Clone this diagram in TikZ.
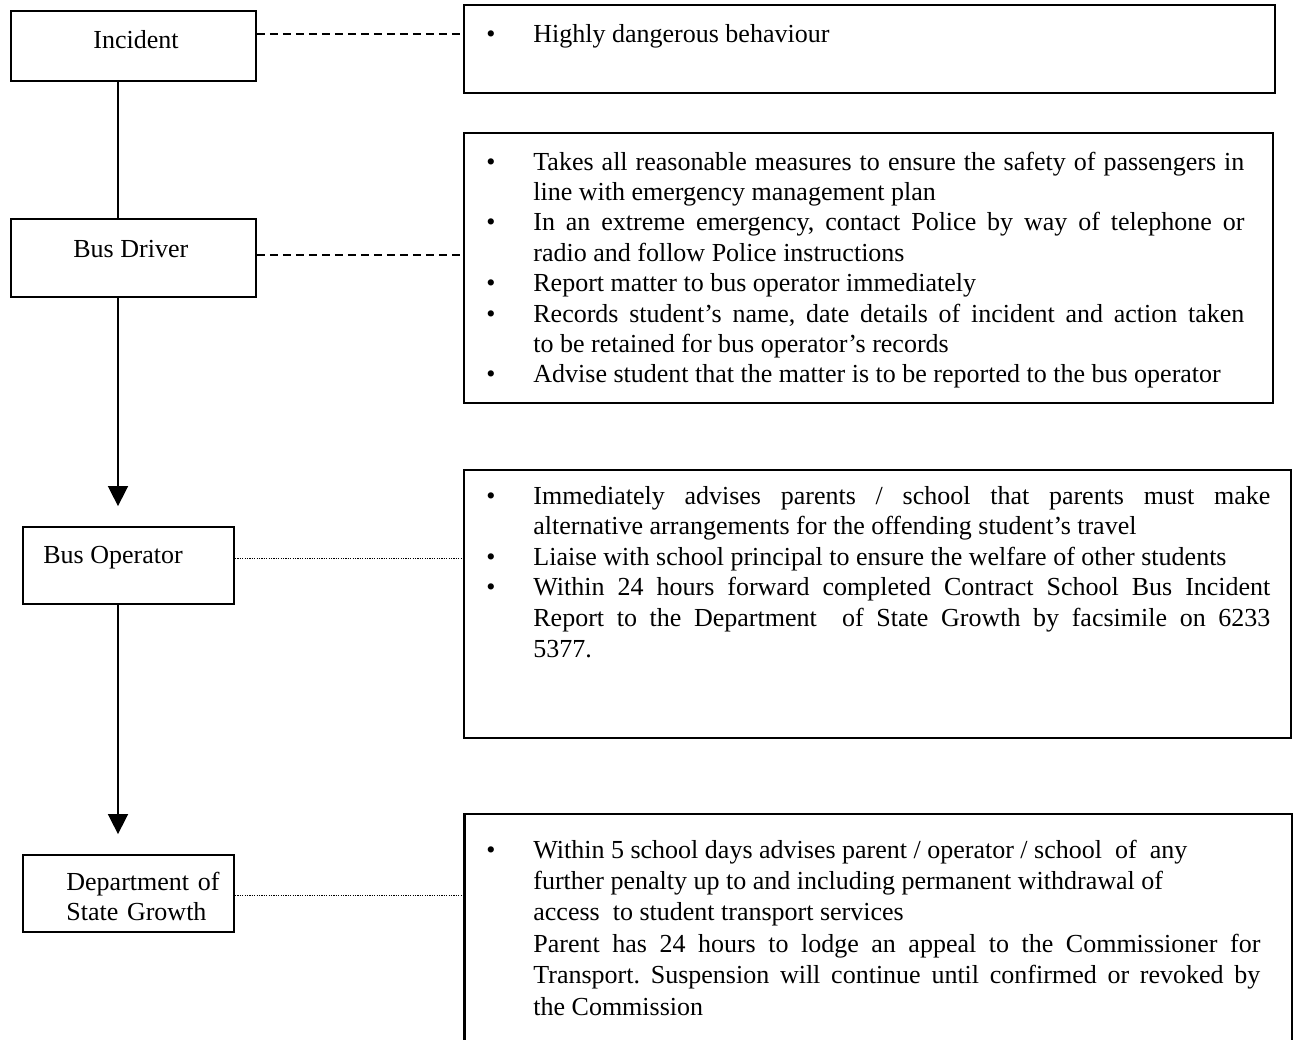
\documentclass[tikz,border=0pt]{standalone}
\usepackage{fontspec}
\setmainfont{Liberation Serif}
\usetikzlibrary{arrows.meta}

% bullet item with hanging indent, and an indented follow-on paragraph
\newcommand{\bhang}{\noindent\hangindent=23.5pt\hangafter=1\makebox[23.5pt][l]{\textbullet}}
\newcommand{\bitem}{\par\bhang}
\newcommand{\bcont}{\par\noindent\hangindent=23.5pt\hangafter=0}

\begin{document}
\frenchspacing
\begin{tikzpicture}[
  x=0.5pt, y=-0.5pt,
  frame/.style={draw, line width=0.9pt, inner sep=0pt},
  tag/.style={anchor=base west, inner sep=0pt, font=\fontsize{13}{15}\selectfont},
  notes/.style={anchor=base west, inner sep=0pt, align=justify, font=\fontsize{13}{15.2}\selectfont},
  plainlink/.style={line width=0.8pt},
  flow/.style={-{Triangle[length=10pt, width=10pt]}, line width=0.8pt, shorten >=10pt},
  dashlink/.style={line width=0.7pt, dash pattern=on 4pt off 2.5pt},
  dotlink/.style={line width=0.5pt, dash pattern=on 0.6pt off 0.6pt},
]
\path[use as bounding box, fill=white] (0,0) rectangle (1296,1039);

% ---- who acts, down the left side ----
\node[frame, minimum width=122.5pt, minimum height=35pt]   (inc) at (133.5,46)    {};
\node[frame, minimum width=122.5pt, minimum height=39pt]   (drv) at (133.5,258)   {};
\node[frame, minimum width=105.5pt, minimum height=38.5pt] (opr) at (128.5,565.5) {};
\node[frame, minimum width=105.5pt, minimum height=38.5pt] (dsg) at (128.5,893.5) {};
\node[tag] (inctxt) at (93,48)  {Incident};
\node[tag] (drvtxt) at (73,257) {Bus Driver};
\node[tag] (oprtxt) at (43,563) {Bus Operator};
\node[tag, text width=80pt, align=left] (dsgtxt) at (66,890) {Department of\newline State Growth};

% ---- what they do, down the right side ----
\node[frame, minimum width=405.5pt, minimum height=44pt]  (sb1) at (869.5,49)  {};
\node[frame, minimum width=404.5pt, minimum height=135pt] (sb2) at (868.5,268) {};
\node[frame, minimum width=413.5pt, minimum height=134pt] (sb3) at (877.5,604) {};
\node[frame, minimum width=413.5pt, minimum height=123pt] (sb4) at (878.5,937) {};
\draw[line width=1.6pt] (sb4.north west) -- (sb4.south west);

\node[notes, text width=390pt] (note1) at (486,42) {%
\bhang Highly dangerous behaviour\par};

\node[notes, text width=379pt] (note2) at (486,170) {%
\bhang Takes all reasonable measures to ensure the safety of passengers in\linebreak line with emergency management plan
\bitem In an extreme emergency, contact Police by way of telephone or\linebreak radio and follow Police instructions
\bitem Report matter to bus operator immediately
\bitem Records student’s name, date details of incident and action taken\linebreak to be retained for bus operator’s records
\bitem Advise student that the matter is to be reported to the bus operator\par};

\node[notes, text width=392pt, font=\fontsize{13}{15.3}\selectfont] (note3) at (486,504) {%
\bhang Immediately advises parents / school that parents must make\linebreak alternative arrangements for the offending student’s travel
\bitem Liaise with school principal to ensure the welfare of other students
\bitem Within 24 hours forward completed Contract School Bus Incident\linebreak Report to the Department\ \ of State Growth by facsimile on 6233\linebreak 5377.\par};

\node[notes, text width=387pt, font=\fontsize{13}{15.7}\selectfont] (note4) at (486,858) {%
\bhang Within 5 school days advises parent / operator / school\ \ of\ \ any\newline further penalty up to and including permanent withdrawal of\newline access\ \ to student transport services
\bcont Parent has 24 hours to lodge an appeal to the Commissioner for\linebreak Transport. Suspension will continue until confirmed or revoked by\linebreak the Commission\par};

% ---- chain of reporting ----
\coordinate (spine) at (118,0);
\draw[plainlink] (spine |- inc.south) -- (spine |- drv.north);
\draw[flow] (spine |- drv.south) -- (spine |- opr.north);
\draw[flow] (spine |- opr.south) -- (spine |- dsg.north);

% ---- links across to the action lists ----
\draw[dashlink] ([yshift=6pt]inc.east) -- ([yshift=6pt]inc.east -| sb1.west);
\draw[dashlink] ([yshift=1.5pt]drv.east) -- ([yshift=1.5pt]drv.east -| sb2.west);
\draw[dotlink] ([yshift=3.75pt]opr.east) -- ([yshift=3.75pt]opr.east -| sb3.west);
\draw[dotlink] ([yshift=-0.75pt]dsg.east) -- ([yshift=-0.75pt]dsg.east -| sb4.west);

\end{tikzpicture}
\end{document}
